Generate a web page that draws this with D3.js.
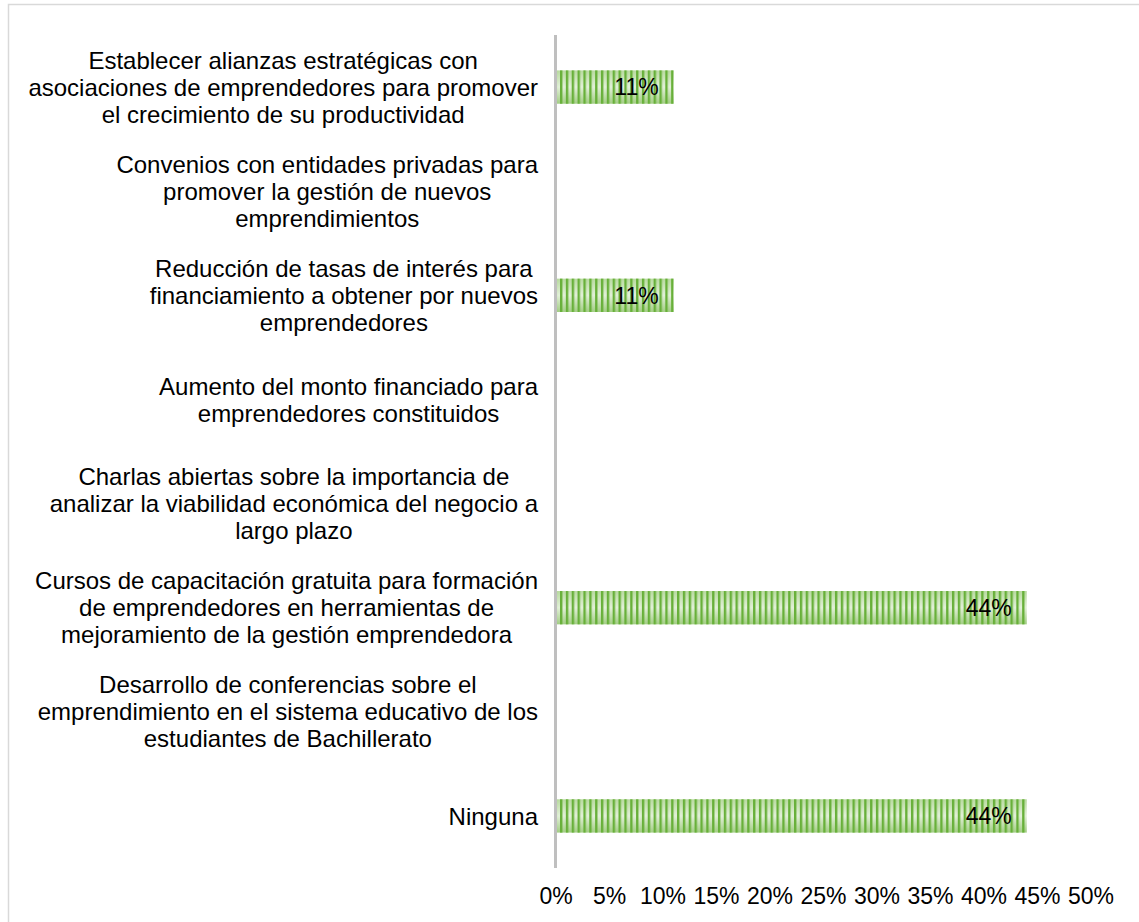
<!DOCTYPE html>
<html>
<head>
<meta charset="utf-8">
<script src="https://cdn.jsdelivr.net/npm/d3@7"></script>
<style>
  body { margin: 0; background: #fff; }
  svg text { font-family: "Liberation Sans", Arial, sans-serif; fill: #000; }
</style>
</head>
<body>
<div id="chart"></div>
<script>
// categories, one array of wrapped lines per bar (top to bottom)
var categories = [
    ["Establecer alianzas estratégicas con", "asociaciones de emprendedores para promover", "el crecimiento de su productividad"],
    ["Convenios con entidades privadas para", "promover la gestión de nuevos", "emprendimientos"],
    ["Reducción de tasas de interés para", "financiamiento a obtener por nuevos", "emprendedores"],
    ["Aumento del monto financiado para", "emprendedores constituidos"],
    ["Charlas abiertas sobre la importancia de", "analizar la viabilidad económica del negocio a", "largo plazo"],
    ["Cursos de capacitación gratuita para formación", "de emprendedores en herramientas de", "mejoramiento de la gestión emprendedora"],
    ["Desarrollo de conferencias sobre el", "emprendimiento en el sistema educativo de los", "estudiantes de Bachillerato"],
    ["Ninguna"]
];
var values = [11, 0, 11, 0, 0, 44, 0, 44];
var tickValues = [0, 5, 10, 15, 20, 25, 30, 35, 40, 45, 50];

var width = 1139, height = 922;

var svg = d3.select("#chart").append("svg")
    .attr("width", width).attr("height", height);

// outer frame
svg.append("rect")
    .attr("x", 8.5).attr("y", 4.5)
    .attr("width", width).attr("height", height)
    .attr("fill", "#fff")
    .attr("stroke", "#d9d9d9").attr("stroke-width", 1.5);

var defs = svg.append("defs");

var grad = defs.append("linearGradient")
    .attr("id", "barGrad").attr("x1", 0).attr("y1", 0).attr("x2", 0).attr("y2", 1);
grad.append("stop").attr("offset", "0%").attr("stop-color", "#b8da9f");
grad.append("stop").attr("offset", "50%").attr("stop-color", "#e2f0d8");
grad.append("stop").attr("offset", "100%").attr("stop-color", "#a2cd84");

var stripes = defs.append("pattern")
    .attr("id", "stripes")
    .attr("patternUnits", "userSpaceOnUse")
    .attr("x", 560).attr("y", 0)
    .attr("width", 5.85).attr("height", 10);
stripes.append("rect")
    .attr("x", 0).attr("y", 0).attr("width", 2.4).attr("height", 10)
    .attr("fill", "#68b03a");

var xScale = d3.scaleLinear().domain([0, 50]).range([556, 1091]);
var yScale = d3.scaleBand()
    .domain(d3.range(categories.length))
    .range([35, 868])
    .paddingInner(0.68).paddingOuter(0.34);

// bars
var bars = svg.selectAll(".bar")
    .data(values)
    .enter()
    .append("g")
    .attr("class", "bar");

bars.each(function(d, i) {
    if (d <= 0) return;
    var g = d3.select(this);
    var y = yScale(i);
    g.append("rect")
        .attr("x", xScale(0) + 1)
        .attr("y", y)
        .attr("width", xScale(d) - xScale(0) - 1)
        .attr("height", yScale.bandwidth())
        .attr("fill", "url(#barGrad)");
    g.append("rect")
        .attr("x", xScale(0) + 1)
        .attr("y", y)
        .attr("width", xScale(d) - xScale(0) - 1)
        .attr("height", yScale.bandwidth())
        .attr("fill", "url(#stripes)");
    g.append("text")
        .attr("x", xScale(d) - 15)
        .attr("y", y + yScale.bandwidth() / 2)
        .attr("dy", "0.36em")
        .attr("text-anchor", "end")
        .style("font-size", "23px")
        .text(d + "%");
});

// vertical axis line
svg.append("line")
    .attr("x1", 555.5).attr("x2", 555.5)
    .attr("y1", 35).attr("y2", 868)
    .attr("stroke", "#bfbfbf").attr("stroke-width", 3);

// category labels: lines centred on each other, block placed left of the axis
var lineH = 27;
var labelRight = 538;
categories.forEach(function(lines, i) {
    var cy = yScale(i) + yScale.bandwidth() / 2;
    var t = svg.append("text")
        .attr("text-anchor", "middle")
        .style("font-size", "24px");
    var spans = lines.map(function(line, k) {
        return t.append("tspan")
            .attr("y", cy + (k - (lines.length - 1) / 2) * lineH)
            .attr("dy", "0.36em")
            .text(line);
    });
    var maxW = d3.max(spans, function(s) { return s.node().getComputedTextLength(); });
    spans.forEach(function(s) { s.attr("x", labelRight - maxW / 2); });
});

// x tick labels
svg.append("g")
    .selectAll("text")
    .data(tickValues)
    .enter()
    .append("text")
    .attr("x", function(d) { return xScale(d); })
    .attr("y", 904)
    .attr("text-anchor", "middle")
    .style("font-size", "23px")
    .text(function(d) { return d + "%"; });
</script>
</body>
</html>
